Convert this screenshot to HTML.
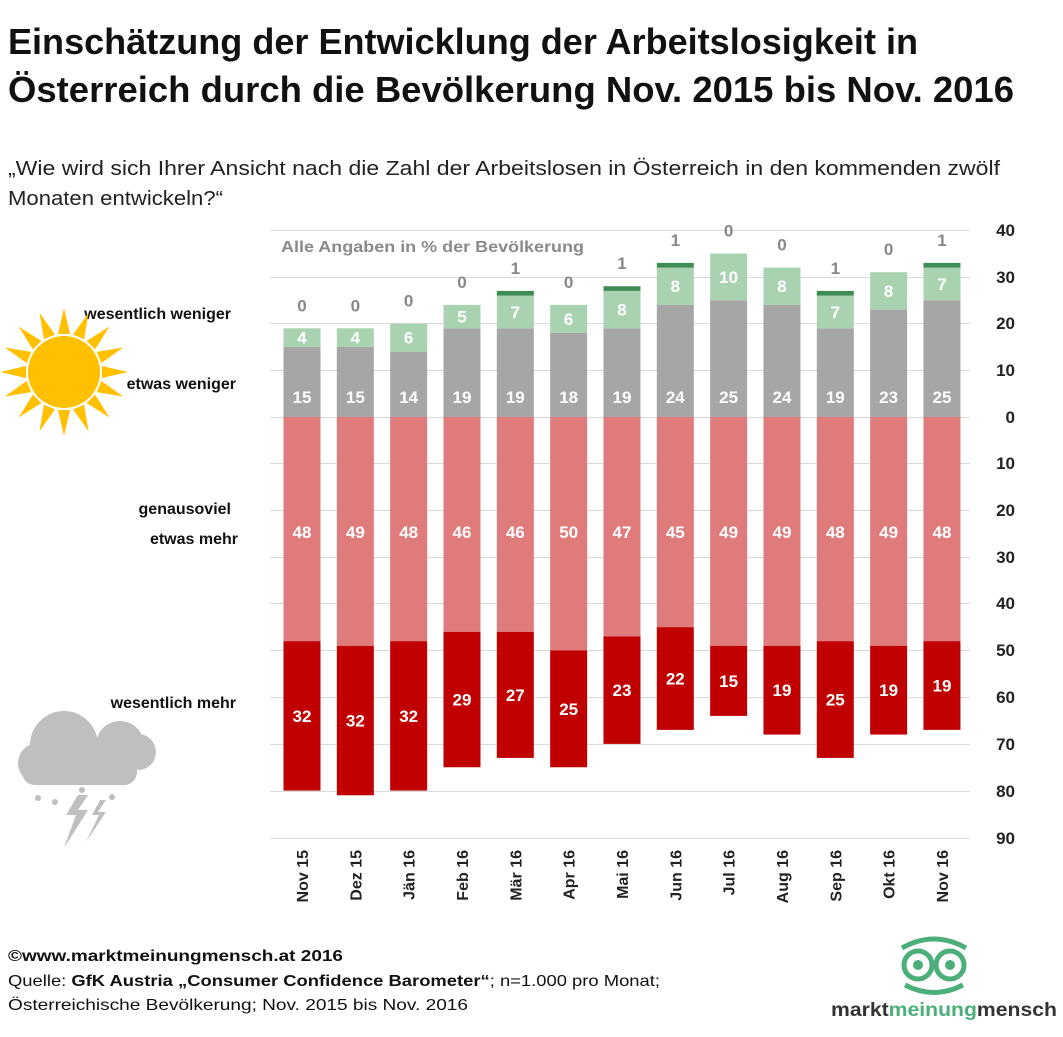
<!DOCTYPE html>
<html><head><meta charset="utf-8"><style>
body{margin:0;background:#fff;width:1063px;height:1032px;overflow:hidden;font-family:"Liberation Sans",sans-serif}
svg text{font-family:"Liberation Sans",sans-serif}
</style></head><body>
<svg width="1063" height="1032" viewBox="0 0 1063 1032">
<text x="8" y="54" font-size="36" font-weight="bold" fill="#111" textLength="910" lengthAdjust="spacingAndGlyphs">Einschätzung der Entwicklung der Arbeitslosigkeit in</text>
<text x="8" y="102" font-size="36" font-weight="bold" fill="#111" textLength="1006" lengthAdjust="spacingAndGlyphs">Österreich durch die Bevölkerung Nov. 2015 bis Nov. 2016</text>
<text x="8" y="175" font-size="20" fill="#222" textLength="992" lengthAdjust="spacingAndGlyphs">„Wie wird sich Ihrer Ansicht nach die Zahl der Arbeitslosen in Österreich in den kommenden zwölf</text>
<text x="8" y="205" font-size="20" fill="#222" textLength="215" lengthAdjust="spacingAndGlyphs">Monaten entwickeln?“</text>
<text x="281" y="252" font-size="16" font-weight="bold" fill="#8a8a8a" textLength="303" lengthAdjust="spacingAndGlyphs">Alle Angaben in % der Bevölkerung</text>
<g stroke="#d9d9d9" stroke-width="1">
<line x1="270" x2="970" y1="230.5" y2="230.5"/><line x1="270" x2="970" y1="277.5" y2="277.5"/><line x1="270" x2="970" y1="323.5" y2="323.5"/><line x1="270" x2="970" y1="370.5" y2="370.5"/><line x1="270" x2="970" y1="417.5" y2="417.5"/><line x1="270" x2="970" y1="463.5" y2="463.5"/><line x1="270" x2="970" y1="510.5" y2="510.5"/><line x1="270" x2="970" y1="557.5" y2="557.5"/><line x1="270" x2="970" y1="603.5" y2="603.5"/><line x1="270" x2="970" y1="650.5" y2="650.5"/><line x1="270" x2="970" y1="697.5" y2="697.5"/><line x1="270" x2="970" y1="744.5" y2="744.5"/><line x1="270" x2="970" y1="791.5" y2="791.5"/><line x1="270" x2="970" y1="838.5" y2="838.5"/>
</g>
<g font-size="17" font-weight="bold" fill="#222" text-anchor="end">
<text x="1015" y="236">40</text><text x="1015" y="283">30</text><text x="1015" y="329">20</text><text x="1015" y="376">10</text><text x="1015" y="423">0</text><text x="1015" y="469">10</text><text x="1015" y="516">20</text><text x="1015" y="563">30</text><text x="1015" y="609">40</text><text x="1015" y="656">50</text><text x="1015" y="703">60</text><text x="1015" y="750">70</text><text x="1015" y="797">80</text><text x="1015" y="844">90</text>
</g>
<g id="bars"></g>
<g font-size="16" font-weight="bold" fill="#111" text-anchor="end">
<text x="231" y="319">wesentlich weniger</text>
<text x="236" y="389">etwas weniger</text>
<text x="231" y="514">genausoviel</text>
<text x="238" y="544">etwas mehr</text>
<text x="236" y="708">wesentlich mehr</text>
</g>
<g transform="translate(64,372)" fill="#ffc000">
<circle r="36"/>
<g id="rays"></g>
</g>
<g fill="#bfbfbf">
<circle cx="120" cy="745" r="24"/><circle cx="138" cy="752" r="18"/>
<circle cx="64" cy="745" r="34"/><circle cx="38" cy="763" r="20"/><circle cx="98" cy="760" r="22"/>
<rect x="22" y="758" width="115" height="27" rx="13"/>
<path d="M78 795 L66 815 L76 815 L64 848 L88 810 L78 810 L88 795Z M100 800 L92 815 L99 815 L86 842 L106 812 L98 812 L106 800Z"/>
<circle cx="38" cy="798" r="3"/><circle cx="55" cy="802" r="3"/><circle cx="112" cy="797" r="3"/><circle cx="82" cy="790" r="3"/>
</g>
<text x="8" y="961" font-size="16" font-weight="bold" fill="#111" textLength="335" lengthAdjust="spacingAndGlyphs">©www.marktmeinungmensch.at 2016</text>
<text x="8" y="986" font-size="16" fill="#111" textLength="652" lengthAdjust="spacingAndGlyphs">Quelle: <tspan font-weight="bold">GfK Austria „Consumer Confidence Barometer“</tspan>; n=1.000 pro Monat;</text>
<text x="8" y="1010" font-size="16" fill="#111" textLength="460" lengthAdjust="spacingAndGlyphs">Österreichische Bevölkerung; Nov. 2015 bis Nov. 2016</text>
<g fill="none" stroke="#4caf7a" stroke-width="5">
<circle cx="918" cy="965" r="14"/><circle cx="950" cy="965" r="14"/>
<path d="M902 948 Q934 930 966 948"/><path d="M905 985 Q934 1000 963 985"/>
</g>
<circle cx="918" cy="965" r="5" fill="#4caf7a"/><circle cx="950" cy="965" r="5" fill="#4caf7a"/>
<text x="831" y="1016" font-size="19" font-weight="bold" fill="#333" textLength="226" lengthAdjust="spacingAndGlyphs">markt<tspan fill="#4caf7a">meinung</tspan>mensch</text>
</svg>
<script>
const d=[["Nov 15",0,4,15,48,32],["Dez 15",0,4,15,49,32],["Jän 16",0,6,14,48,32],["Feb 16",0,5,19,46,29],["Mär 16",1,7,19,46,27],["Apr 16",0,6,18,50,25],["Mai 16",1,8,19,47,23],["Jun 16",1,8,24,45,22],["Jul 16",0,10,25,49,15],["Aug 16",0,8,24,49,19],["Sep 16",1,7,19,48,25],["Okt 16",0,8,23,49,19],["Nov 16",1,7,25,48,19]];
const k=4.67,z=417,w=37;let s="";
const Y=v=>z-v*k;
const T=(x,y,t,c,sz)=>`<text x="${x}" y="${y}" font-size="${sz||17}" font-weight="bold" fill="${c}" text-anchor="middle">${t}</text>`;
d.forEach((r,i)=>{const x=302+i*53.33;const [n,dg,lg,g,lr,dr]=r;
s+=`<rect x="${x-w/2}" y="${Y(g)}" width="${w}" height="${g*k}" fill="#a6a6a6"/>`;
s+=`<rect x="${x-w/2}" y="${Y(g+lg)}" width="${w}" height="${lg*k}" fill="#a9d3b0"/>`;
if(dg)s+=`<rect x="${x-w/2}" y="${Y(g+lg+dg)}" width="${w}" height="${dg*k}" fill="#3d8b55"/>`;
s+=`<rect x="${x-w/2}" y="${z}" width="${w}" height="${lr*k}" fill="#e07b7b"/>`;
s+=`<rect x="${x-w/2}" y="${z+lr*k}" width="${w}" height="${dr*k}" fill="#c00000"/>`;
s+=T(x,Y(g+lg+dg)-17,dg,"#888",17);
s+=T(x,Y(g+lg/2)+6,lg,"#fff");
s+=T(x,403,g,"#fff");
s+=T(x,538,lr,"#fff");
s+=T(x,z+(lr+dr/2)*k+6,dr,"#fff");
s+=`<text transform="translate(${x+6},850) rotate(-90)" font-size="16" font-weight="bold" fill="#222" text-anchor="end">${n}</text>`;
});
document.getElementById("bars").innerHTML=s;
let r="";for(let a=0;a<360;a+=22.5){r+=`<polygon points="-6,-38 6,-38 0,-64" transform="rotate(${a})"/>`;}
document.getElementById("rays").innerHTML=r;
</script>
</body></html>
